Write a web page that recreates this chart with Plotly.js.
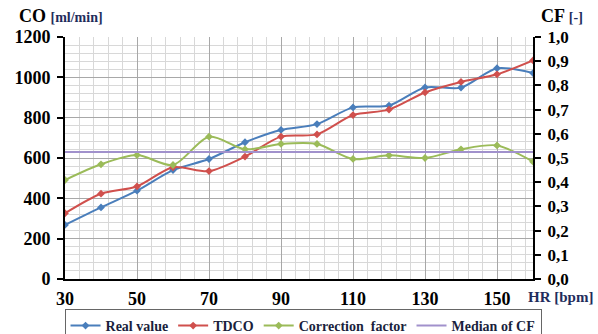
<!DOCTYPE html>
<html>
<head>
<meta charset="utf-8">
<script src="https://cdn.plot.ly/plotly-3.0.1.min.js"></script>
<style>html,body{margin:0;padding:0;background:#fff;}#chart{width:598px;height:334px;}</style>
</head>
<body>
<div id="chart"></div>
<script>
var hr = [30, 40, 50, 60, 70, 80, 90, 100, 110, 120, 130, 140, 150, 160];
var realValue = [268, 355, 438, 540, 595, 678, 739, 768, 851, 860, 950, 949, 1045, 1021];
var tdco = [326, 423, 459, 554, 535, 607, 706, 717, 813, 840, 925, 977, 1015, 1084];
var cf = [0.409, 0.474, 0.512, 0.471, 0.588, 0.536, 0.558, 0.558, 0.496, 0.511, 0.500, 0.536, 0.552, 0.485];
var cfMedian = 0.525;
var hrTicks = [30, 50, 70, 90, 110, 130, 150];
var coTicks = [0, 200, 400, 600, 800, 1000, 1200];
var cfTickVals = [0, 0.1, 0.2, 0.3, 0.4, 0.5, 0.6, 0.7, 0.8, 0.9, 1.0];
var cfTickText = ["0,0", "0,1", "0,2", "0,3", "0,4", "0,5", "0,6", "0,7", "0,8", "0,9", "1,0"];

var serif = "'Liberation Serif', 'Times New Roman', serif";
var navy = "#1f2d5c";

var traces = [
  {x: hr, y: realValue, name: "Real value", type: "scatter", mode: "lines+markers",
   line: {color: "#4a7ebb", width: 2, shape: "spline", smoothing: 0.8},
   marker: {symbol: "diamond", size: 6, color: "#4a7ebb"}},
  {x: hr, y: tdco, name: "TDCO", type: "scatter", mode: "lines+markers",
   line: {color: "#d0504d", width: 2, shape: "spline", smoothing: 0.8},
   marker: {symbol: "diamond", size: 6, color: "#d0504d"}},
  {x: hr, y: cf, name: "Correction  factor", type: "scatter", mode: "lines+markers", yaxis: "y2",
   line: {color: "#9bbb59", width: 2, shape: "spline", smoothing: 0.8},
   marker: {symbol: "diamond", size: 6, color: "#9bbb59"}},
  {x: [hr[0], hr[hr.length - 1]], y: [cfMedian, cfMedian], name: "Median of CF", type: "scatter", mode: "lines", yaxis: "y2",
   line: {color: "#a191cc", width: 2}}
];

var layout = {
  width: 598, height: 334,
  margin: {l: 65, r: 65, t: 37, b: 55, autoexpand: false},
  paper_bgcolor: "#fff", plot_bgcolor: "#fff",
  font: {family: serif, size: 15, color: "#000", weight: "bold"},
  showlegend: true,
  legend: {orientation: "h", x: -0.001, xanchor: "left", y: -0.124, yanchor: "top",
           bordercolor: "#666", borderwidth: 1, bgcolor: "rgba(0,0,0,0)",
           font: {family: serif, size: 14, color: "#1a1f3d", weight: "bold"},
           itemwidth: 30, tracegroupgap: 0, valign: "middle"},
  xaxis: {range: [30, 160], tickvals: hrTicks, ticktext: hrTicks.map(String),
          showgrid: true, gridcolor: "#a8a8a8", gridwidth: 1,
          minor: {dtick: 4, tick0: 30, showgrid: true, gridcolor: "#d8d8d8", gridwidth: 1, ticks: ""},
          showline: true, linecolor: "#000", linewidth: 2, ticks: "", zeroline: false,
          ticklabelstandoff: 2,
          tickfont: {family: serif, size: 18, color: "#000", weight: "bold"}},
  yaxis: {range: [0, 1200], tickvals: coTicks, ticktext: coTicks.map(String),
          showgrid: true, gridcolor: "#a8a8a8", gridwidth: 1,
          minor: {dtick: 40, tick0: 0, showgrid: true, gridcolor: "#d8d8d8", gridwidth: 1, ticks: ""},
          showline: true, linecolor: "#000", linewidth: 2, ticks: "outside", ticklen: 6, tickwidth: 2, tickcolor: "#000",
          zeroline: false, ticklabelstandoff: 3,
          tickfont: {family: serif, size: 18, color: "#000", weight: "bold"}},
  yaxis2: {range: [0, 1], overlaying: "y", side: "right", tickvals: cfTickVals, ticktext: cfTickText,
           showgrid: false, showline: true, linecolor: "#000", linewidth: 2, ticks: "outside", ticklen: 6, tickwidth: 2, tickcolor: "#000",
           zeroline: false, ticklabelstandoff: 3,
           tickfont: {family: serif, size: 17, color: "#000", weight: "bold"}},
  annotations: [
    {xref: "paper", yref: "paper", x: -0.102, y: 1.0, yshift: 9, xanchor: "left", yanchor: "bottom", showarrow: false,
     text: "<b>CO</b> <b><span style='font-size:14px;color:" + navy + "'>[ml/min]</span></b>",
     font: {family: serif, size: 18, color: "#000"}},
    {xref: "paper", yref: "paper", x: 1.013, y: 1.0, yshift: 9, xanchor: "left", yanchor: "bottom", showarrow: false,
     text: "<b>CF</b> <b><span style='font-size:14px;color:" + navy + "'>[-]</span></b>",
     font: {family: serif, size: 18, color: "#000"}},
    {xref: "paper", yref: "paper", x: 0.985, y: 0, yshift: -18, xanchor: "left", yanchor: "middle", showarrow: false,
     text: "<b>HR [bpm]</b>",
     font: {family: serif, size: 15, color: navy}}
  ]
};

Plotly.newPlot("chart", traces, layout, {displayModeBar: false, staticPlot: true});
</script>
</body>
</html>
